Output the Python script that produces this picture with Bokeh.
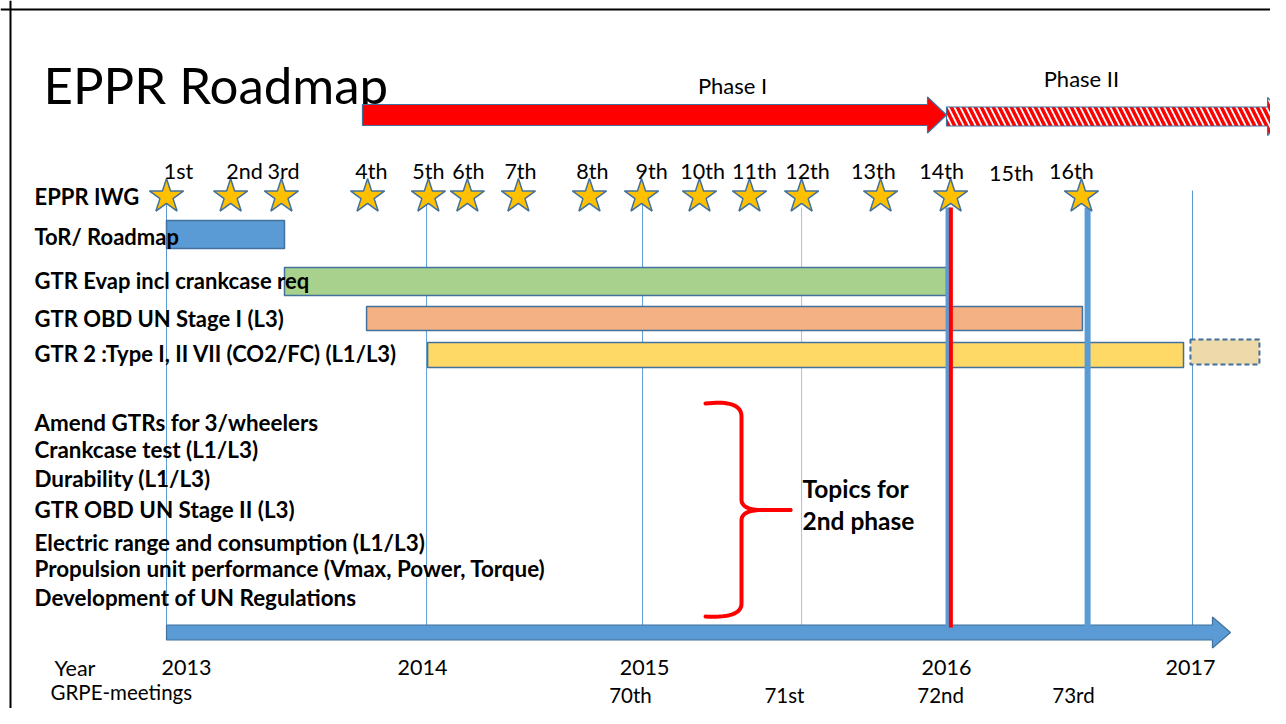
import numpy as np
from bokeh.plotting import figure
from bokeh.models import Range1d, ColumnDataSource, Span
from bokeh.core.properties import value
from bokeh.embed import file_html
from bokeh.resources import INLINE

# ---------------- data (timeline positions in years) ----------------
TITLE = "EPPR Roadmap"

PHASES = ["Phase I", "Phase II"]
PHASE_START = [2013.764, 2016.041]
PHASE_END = [2016.041, 2017.363]
PHASE_LABEL_POS = [2015.207, 2016.567]

MEETINGS = ["1st", "2nd", "3rd", "4th", "5th", "6th", "7th", "8th", "9th",
            "10th", "11th", "12th", "13th", "14th", "15th", "16th"]
MEETING_DATE = [2013.000, 2013.250, 2013.448, 2013.784, 2014.021, 2014.173,
                2014.372, 2014.649, 2014.852, 2015.078, 2015.273, 2015.476,
                2015.784, 2016.057, 2016.294, 2016.567]
MEETING_LABEL_POS = [2013.047, 2013.304, 2013.456, 2013.799, 2014.021, 2014.177,
                     2014.380, 2014.660, 2014.891, 2015.090, 2015.292, 2015.499,
                     2015.756, 2016.022, 2016.294, 2016.528]
MEETING_HELD = [1, 1, 1, 1, 1, 1, 1, 1, 1, 1, 1, 1, 1, 1, 0, 1]

TASKS = ["ToR/ Roadmap", "GTR Evap incl crankcase req", "GTR OBD UN Stage I (L3)",
         "GTR 2 :Type I, II VII (CO2/FC)  (L1/L3)"]
TASK_START = [2013.000, 2013.460, 2013.780, 2014.018]
TASK_END = [2013.460, 2016.041, 2016.571, 2016.965]
EXTENSION_START = [2016.992]
EXTENSION_END = [2017.261]

TOPICS = ["Amend GTRs for 3/wheelers", "Crankcase test (L1/L3)", "Durability (L1/L3)",
          "GTR OBD UN Stage II (L3)", "Electric range and consumption (L1/L3)",
          "Propulsion unit performance (Vmax, Power, Torque)", "Development of UN Regulations"]
TOPICS_NOTE = ["Topics for", "2nd phase"]

YEARS = ["2013", "2014", "2015", "2016", "2017"]
YEAR_LABEL_POS = [2013.078, 2013.998, 2014.864, 2016.041, 2016.992]
GUIDE_LINES = [2013.000, 2014.014, 2014.856, 2015.476, 2017.000]
MILESTONE_LINES = [2016.047, 2016.591]
CUTOFF_LINE = [2016.058]
GRPE = ["70th", "71st", "72nd", "73rd"]
GRPE_POS = [2014.809, 2015.409, 2016.018, 2016.536]
TIMELINE_START = 2013.0
TIMELINE_END = 2017.148

# ---------------- layout ----------------
W, H = 1270, 708
PX_PER_YEAR = 256.5
X_LEFT = 2013.0 - 166 / PX_PER_YEAR
X_RIGHT = X_LEFT + W / PX_PER_YEAR
YPP = 1.0 / PX_PER_YEAR


def px(v):
    """layout helper: horizontal slide pixel -> timeline units"""
    return X_LEFT + v * YPP


FONT = value("Lato")
OUTLINE = "#41719C"
BLUE = "#5B9BD5"
TASK_FILL = ["#5B9BD5", "#A9D18E", "#F4B183", "#FFD966"]
TASK_Y = [234, 281, 318, 354.5]
TASK_HALF = [14, 14, 12, 12.5]
LABEL_Y = [236, 280, 318, 353]
IWG_Y = 196
TOPIC_Y = [422, 449, 478, 509, 542, 568, 597]
BODY = "22px"
TOPIC_SIZE = "22.4px"
SMALL = "21.5px"
BOTTOM = "20.5px"


def arrow(x0, x1, yc, shaft, head, head_len_px):
    xb = x1 - head_len_px * YPP
    xs = [x0, xb, xb, x1, xb, xb, x0]
    ys = [yc - shaft, yc - shaft, yc - head, yc, yc + head, yc + shaft, yc + shaft]
    return xs, ys


def qbez(p0, c, p1, n=20):
    t = np.linspace(0, 1, n)
    x = (1 - t) ** 2 * p0[0] + 2 * (1 - t) * t * c[0] + t ** 2 * p1[0]
    y = (1 - t) ** 2 * p0[1] + 2 * (1 - t) * t * c[1] + t ** 2 * p1[1]
    return list(x), list(y)


p = figure(width=W, height=H, output_backend="svg", toolbar_location=None,
           x_range=Range1d(X_LEFT, X_RIGHT), y_range=Range1d(H, 0),
           x_axis_type=None, y_axis_type=None, min_border=0,
           outline_line_color=None, background_fill_color="white",
           border_fill_color="white")
p.grid.visible = False

# slide frame (left / top edges visible)
p.add_layout(Span(location=px(10), dimension="height", line_color="black", line_width=2))
p.add_layout(Span(location=9, dimension="width", line_color="black", line_width=2))

# title
p.text(x=[px(43)], y=[84], text=[TITLE], text_font=FONT, text_font_size="51px",
       text_color="black", text_baseline="alphabetic", text_align="left")

# phase arrows
a1 = arrow(PHASE_START[0], PHASE_END[0], 114.5, 10.5, 18, 19)
p.patch(a1[0], a1[1], fill_color="#FF0000", line_color=OUTLINE, line_width=1.2)
a2 = arrow(PHASE_START[1], PHASE_END[1], 116, 9.5, 19, 18)
p.patch(a2[0], a2[1], fill_color="white", hatch_pattern="\\", hatch_color="#FF0000",
        hatch_scale=12, hatch_weight=3.5, line_color=OUTLINE, line_width=1.2)
p.text(x=PHASE_LABEL_POS, y=[85, 78], text=PHASES, text_font=FONT,
       text_font_size="22px", text_align="center", text_baseline="middle")

# thin guide lines
g_top = [196, 196, 196, 207, 190]
g_col = [BLUE, BLUE, BLUE, "#9DC3E6", BLUE]
p.segment(x0=GUIDE_LINES, y0=g_top, x1=GUIDE_LINES, y1=[625] * len(GUIDE_LINES),
          line_color=g_col, line_width=1)

# task bars
tsrc = ColumnDataSource(dict(
    left=TASK_START, right=TASK_END,
    top=[y - h for y, h in zip(TASK_Y, TASK_HALF)],
    bottom=[y + h for y, h in zip(TASK_Y, TASK_HALF)],
    fill=TASK_FILL))
p.quad(left="left", right="right", top="top", bottom="bottom", fill_color="fill",
       line_color=OUTLINE, line_width=1.5, source=tsrc)
p.quad(left=EXTENSION_START, right=EXTENSION_END, top=[339], bottom=[364],
       fill_color="#EDD9A9", line_color=OUTLINE, line_width=2, line_dash="5 3")

# bottom timeline arrow
a3 = arrow(TIMELINE_START, TIMELINE_END, 632, 7.5, 15.5, 18)
p.patch(a3[0], a3[1], fill_color=BLUE, line_color=OUTLINE, line_width=1.2)

# milestone lines
p.segment(x0=MILESTONE_LINES, y0=[207, 207], x1=MILESTONE_LINES, y1=[627, 627],
          line_color=BLUE, line_width=[5, 6])
p.segment(x0=CUTOFF_LINE, y0=[207], x1=CUTOFF_LINE, y1=[627],
          line_color="#FF0000", line_width=4)

# meetings
held = [d for d, h in zip(MEETING_DATE, MEETING_HELD) if h]
p.scatter(x=held, y=[IWG_Y] * len(held), marker="star", size=36,
          fill_color="#FFC000", line_color=OUTLINE, line_width=1.5)
m_y = [170] * len(MEETINGS)
m_y[14] = 172
p.text(x=MEETING_LABEL_POS, y=m_y, text=MEETINGS, text_font=FONT,
       text_font_size=SMALL, text_align="center", text_baseline="middle")

# row labels
p.text(x=[px(34)] * 5, y=[IWG_Y] + LABEL_Y, text=["EPPR IWG"] + TASKS, text_font=FONT,
       text_font_size=BODY, text_font_style="bold", text_align="left",
       text_baseline="middle")

# topics for 2nd phase
p.text(x=[px(34)] * len(TOPICS), y=TOPIC_Y, text=TOPICS, text_font=FONT,
       text_font_size=TOPIC_SIZE, text_font_style="bold", text_align="left",
       text_baseline="middle")

# brace
bx = 741
u1 = qbez((705, 403), (741, 399), (bx, 416))
u2 = qbez((bx, 499), (bx, 509.5), (762, 509.5))
l1 = qbez((762, 509.5), (bx, 509.5), (bx, 520))
l2 = qbez((bx, 603), (741, 618), (705, 616))
up_x = u1[0] + u2[0] + [790]
up_y = u1[1] + u2[1] + [509.5]
lo_x = [790] + l1[0] + l2[0]
lo_y = [509.5] + l1[1] + l2[1]
p.multi_line(xs=[[px(v) for v in up_x], [px(v) for v in lo_x]], ys=[up_y, lo_y],
             line_color="#FF0000", line_width=4, line_cap="round", line_join="round")
p.text(x=[px(802)] * 2, y=[488, 520], text=TOPICS_NOTE, text_font=FONT,
       text_font_size="24.5px", text_font_style="bold", text_align="left",
       text_baseline="middle")

# years / GRPE meetings
p.text(x=[px(54)], y=[667], text=["Year"], text_font=FONT, text_font_size=SMALL,
       text_align="left", text_baseline="middle")
p.text(x=YEAR_LABEL_POS, y=[667] * len(YEARS), text=YEARS, text_font=FONT,
       text_font_size=SMALL, text_align="center", text_baseline="middle")
p.text(x=[px(50)], y=[691], text=["GRPE-meetings"], text_font=FONT,
       text_font_size=BOTTOM, text_align="left", text_baseline="middle")
p.text(x=GRPE_POS, y=[694] * len(GRPE), text=GRPE, text_font=FONT,
       text_font_size=BOTTOM, text_align="center", text_baseline="middle")

open("out.html", "w").write(file_html(p, INLINE))
